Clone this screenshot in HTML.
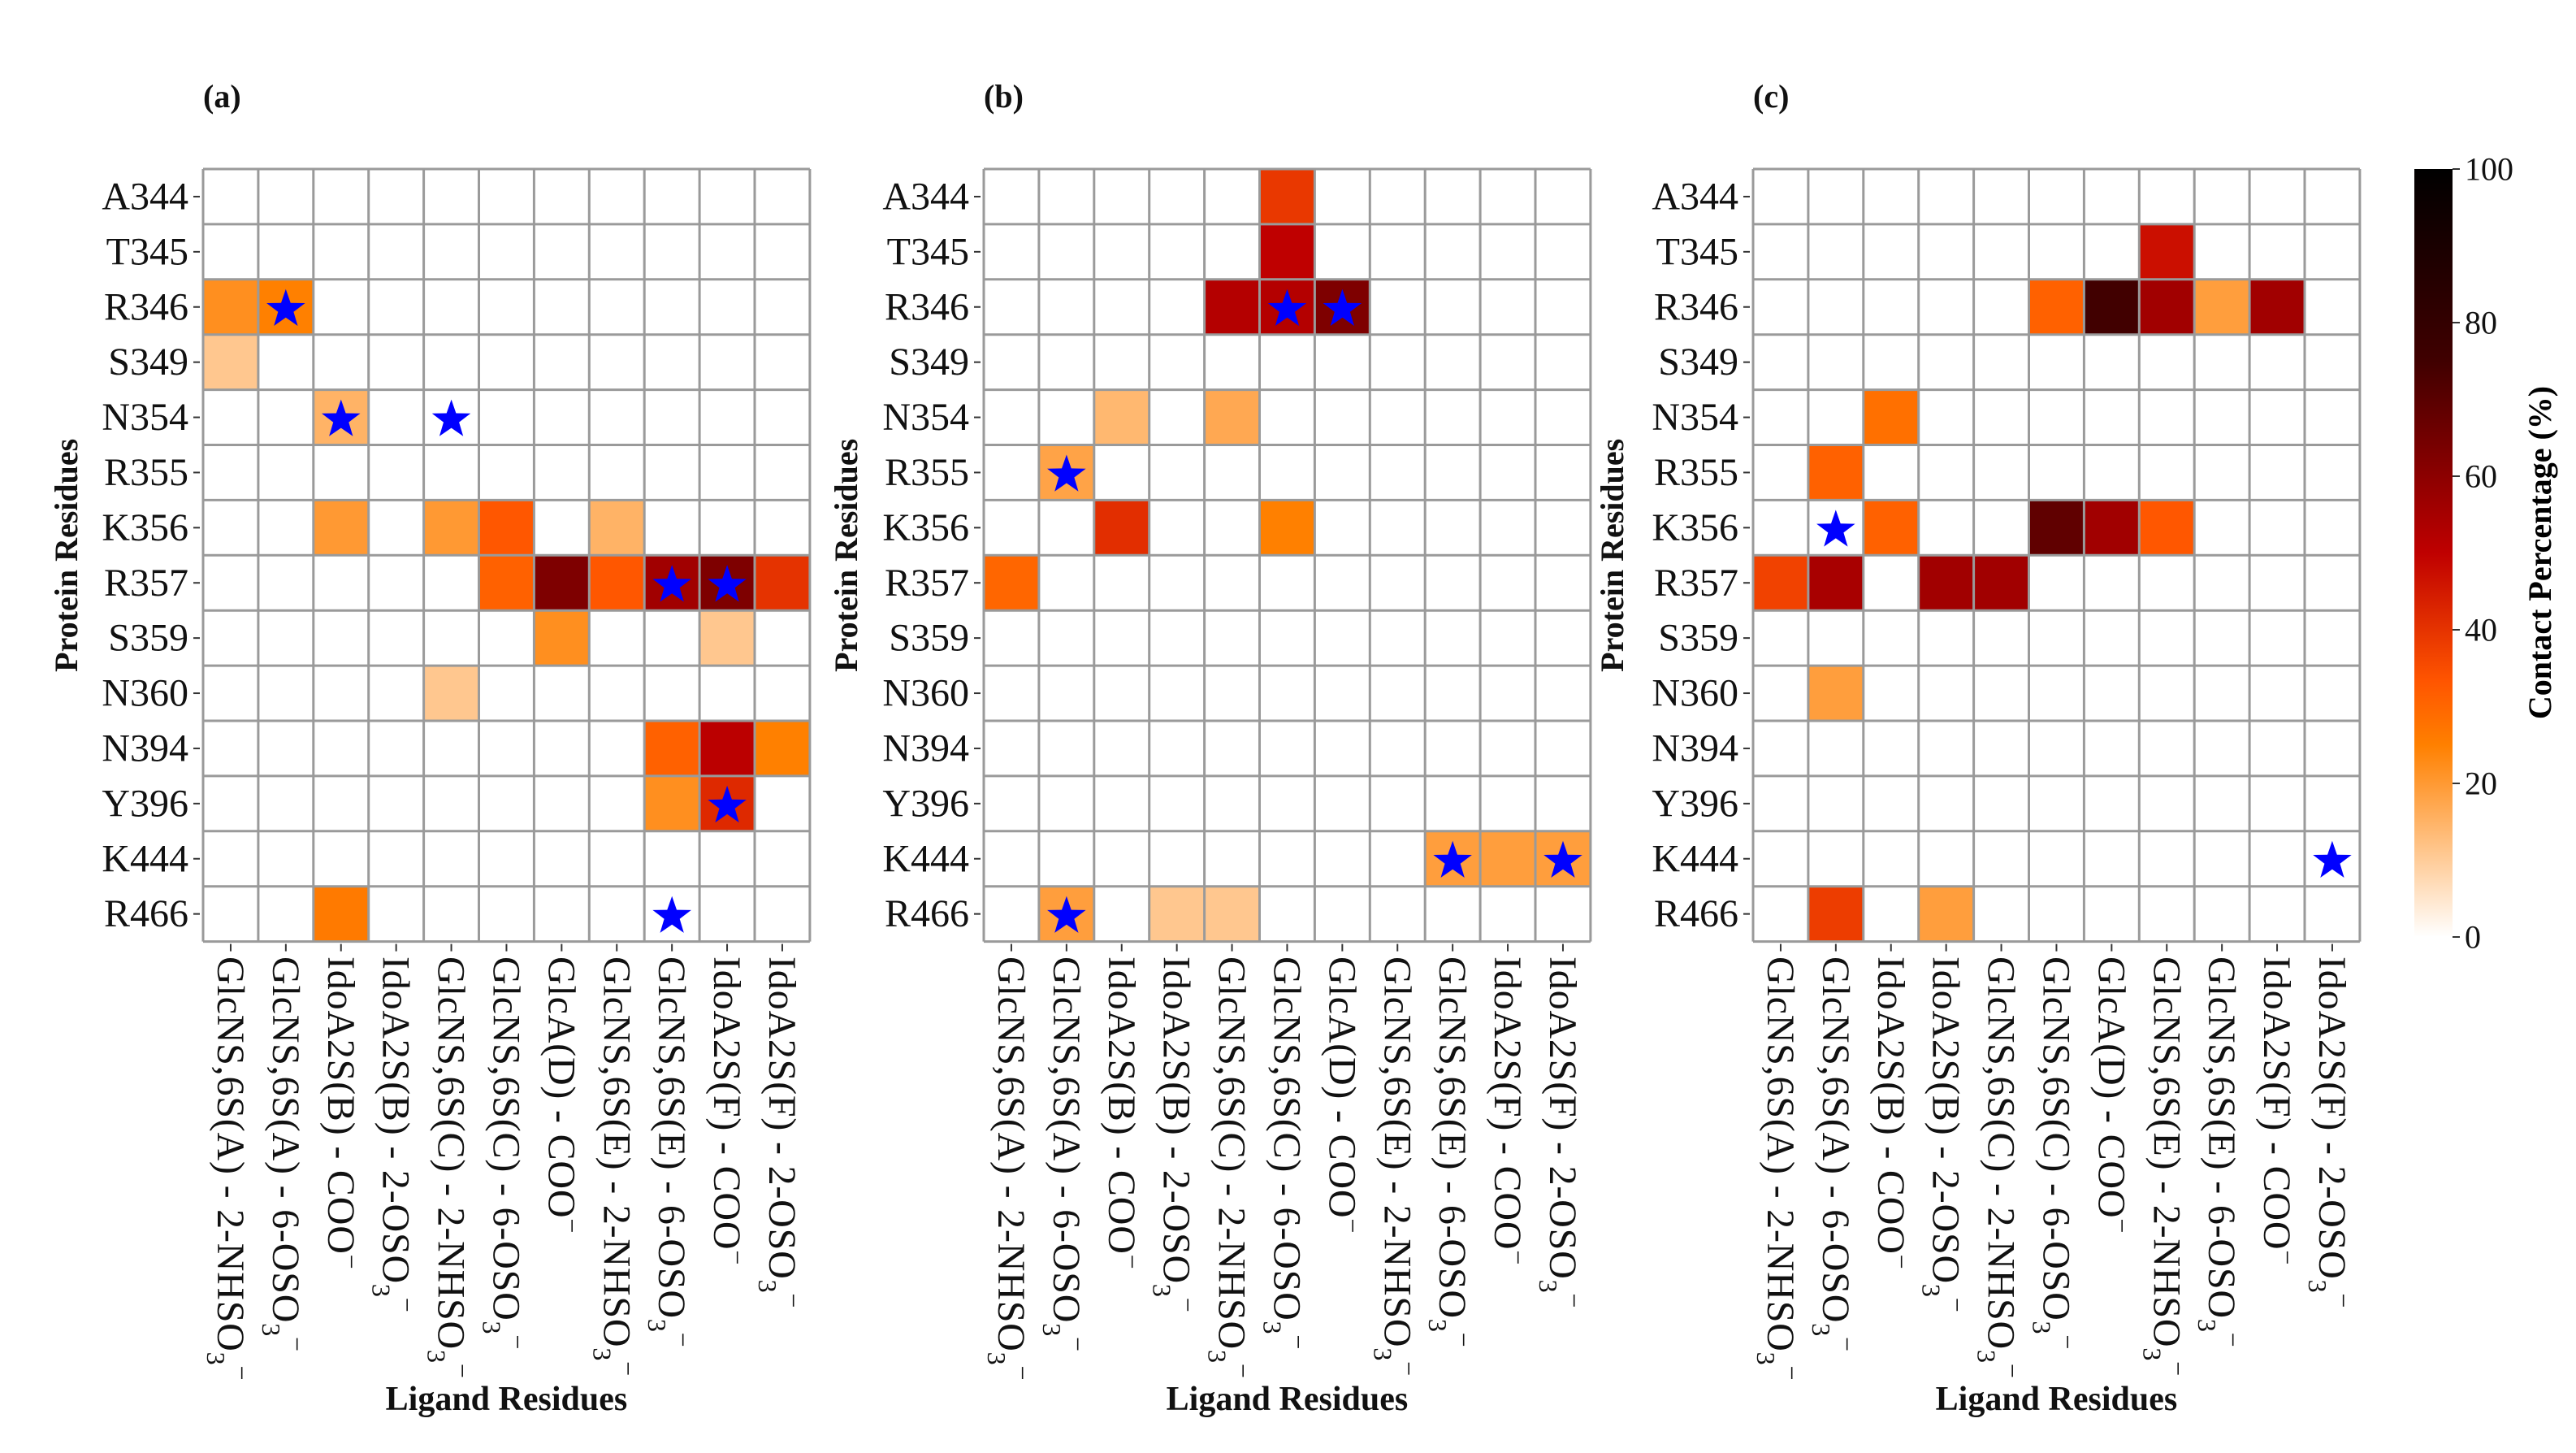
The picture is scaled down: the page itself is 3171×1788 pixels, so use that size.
<!DOCTYPE html>
<html><head><meta charset="utf-8"><style>
html,body{margin:0;padding:0;background:#fff;}
svg{display:block;font-family:"Liberation Serif",serif;}
</style></head><body>
<svg id="chart" width="3171" height="1788" viewBox="0 0 3171 1788" xmlns="http://www.w3.org/2000/svg">
<defs>
<linearGradient id="cbg" x1="0" y1="1" x2="0" y2="0">
<stop offset="0" stop-color="#ffffff"/><stop offset="0.25" stop-color="#ff8000"/><stop offset="0.333" stop-color="#ff5500"/><stop offset="0.5" stop-color="#bf0000"/><stop offset="0.75" stop-color="#400000"/><stop offset="1" stop-color="#000000"/>
</linearGradient>
</defs>
<g id="colorbar">
<rect x="2972" y="208" width="47" height="945" fill="url(#cbg)"/>
<text transform="translate(3140,680) rotate(-90)" text-anchor="middle" font-size="40" font-weight="bold">Contact Percentage (%)</text>
</g>
</svg>
<script>
const rowLabels = ["A344","T345","R346","S349","N354","R355","K356","R357","S359","N360","N394","Y396","K444","R466"];
const colMain = ["GlcNS,6S(A) - 2-NHSO","GlcNS,6S(A) - 6-OSO","IdoA2S(B) - COO","IdoA2S(B) - 2-OSO","GlcNS,6S(C) - 2-NHSO","GlcNS,6S(C) - 6-OSO","GlcA(D) - COO","GlcNS,6S(E) - 2-NHSO","GlcNS,6S(E) - 6-OSO","IdoA2S(F) - COO","IdoA2S(F) - 2-OSO"];
const colSub = [true,true,false,true,true,true,false,true,true,false,true];
const panelTitles = ["(a)","(b)","(c)"];
const cbTicks = [0,20,40,60,80,100];
// cells: [row, col, percent]
const cellsA = [[2,0,22],[2,1,25],[3,0,11],[4,2,15],[6,2,20],[6,4,20],[6,5,33],[6,7,15],[7,5,31],[7,6,67],[7,7,33],[7,8,58],[7,9,67],[7,10,40],[8,6,22],[8,9,11],[9,4,11],[10,8,31],[10,9,51],[10,10,25],[11,8,22],[11,9,42],[13,2,26]];
const cellsB = [[0,5,39],[1,5,50],[2,4,53],[2,5,53],[2,6,67],[4,2,14],[4,4,17],[5,1,18],[6,2,41],[6,5,25],[7,0,30],[12,8,19],[12,9,19],[12,10,19],[13,1,19],[13,3,11],[13,4,11]];
const cellsC = [[1,7,47],[2,5,31],[2,6,83],[2,7,58],[2,8,19],[2,9,58],[4,2,28],[5,1,31],[6,2,31],[6,5,75],[6,6,58],[6,7,33],[7,0,37],[7,1,56],[7,3,58],[7,4,58],[9,1,19],[13,1,38],[13,3,19]];
// stars: [row, col]
const starsA = [[2,1],[4,2],[4,4],[7,8],[7,9],[11,9],[13,8]];
const starsB = [[2,5],[2,6],[5,1],[12,8],[12,10],[13,1]];
const starsC = [[6,1],[12,10]];

const NS="http://www.w3.org/2000/svg";
const svg=document.getElementById('chart');
const CELL=67.9, TOP=208;
const lefts=[250,1211,2158];
const ytitleX=[81,1041,1984];
function el(t,a,p){const e=document.createElementNS(NS,t);for(const k in a)e.setAttribute(k,a[k]);(p||svg).appendChild(e);return e;}
function color(p){const x=p/100;const r=Math.min(1,1.5*(1-x)),g=Math.max(0,Math.min(1,1-2*x)),b=Math.max(0,Math.min(1,1-4*x));return `rgb(${Math.round(r*255)},${Math.round(g*255)},${Math.round(b*255)})`;}
function xPos(i,c){return lefts[i]+c*CELL;}
function yPos(r){return TOP+r*CELL;}
function starPath(cx,cy,R){const r=R*0.4;let d='';for(let k=0;k<10;k++){const a=-Math.PI/2+k*Math.PI/5;const rr=k%2?r:R;d+=(k?'L':'M')+(cx+rr*Math.cos(a)).toFixed(1)+','+(cy+rr*Math.sin(a)).toFixed(1);}return d+'Z';}
const cellSets=[cellsA,cellsB,cellsC], starSets=[starsA,starsB,starsC];
for(let i=0;i<3;i++){
  const g=el('g',{});
  
  
  cellSets[i].forEach(([r,c,v])=>{
    const rc=el('rect',{x:xPos(i,c),y:yPos(r),width:CELL,height:CELL,fill:color(v)},g);
    
    
  });
  const W=colMain.length*CELL,H=rowLabels.length*CELL;
  for(let c=0;c<=colMain.length;c++){const l=el('line',{x1:xPos(i,c),x2:xPos(i,c),y1:TOP,y2:TOP+H,stroke:'#9a9a9a','stroke-width':3},g);}
  for(let r=0;r<=rowLabels.length;r++){const l=el('line',{x1:lefts[i],x2:lefts[i]+W,y1:yPos(r),y2:yPos(r),stroke:'#9a9a9a','stroke-width':3},g);}
  starSets[i].forEach(([r,c])=>{
    const s=el('path',{d:starPath(xPos(i,c)+CELL/2,yPos(r)+CELL/2+3,25),fill:'#0000ff'},g);
    
    
  });
  rowLabels.forEach((lab,r)=>{
    const cy=yPos(r)+CELL/2;
    el('line',{x1:lefts[i]-12,x2:lefts[i]-4,y1:cy,y2:cy,stroke:'#333','stroke-width':2},g);
    const t=el('text',{x:lefts[i]-18,y:cy,'text-anchor':'end','dominant-baseline':'central','font-size':48,fill:'#111'},g);
    t.textContent=lab;
    
    
  });
  colMain.forEach((lab,c)=>{
    const cx=xPos(i,c)+CELL/2;
    el('line',{x1:cx,x2:cx,y1:TOP+H+3,y2:TOP+H+12,stroke:'#333','stroke-width':2},g);
    const t=el('text',{transform:`translate(${cx-16},1177) rotate(90)`,'font-size':48,'letter-spacing':0.8,fill:'#111'},g);
    
    
    const m=el('tspan',{},t);m.textContent=lab;
    if(colSub[c]){const s=el('tspan',{dy:13,'font-size':32},t);s.textContent='3';const sp=el('tspan',{dy:-32,'font-size':32},t);sp.textContent='−';}
    else{const sp=el('tspan',{dy:-18,'font-size':32},t);sp.textContent='−';}
  });
  const xt=el('text',{x:lefts[i]+W/2,y:1735,'text-anchor':'middle','font-size':42,'font-weight':'bold',fill:'#111'},g);
  xt.textContent='Ligand Residues';
  
  
  const yt=el('text',{transform:`translate(${ytitleX[i]+14},${TOP+H/2}) rotate(-90)`,'text-anchor':'middle','font-size':40,'font-weight':'bold',fill:'#111'},g);
  yt.textContent='Protein Residues';
  
  
  const pt=el('text',{x:lefts[i],y:132,'font-size':40,'font-weight':'bold',fill:'#111'},g);
  pt.textContent=panelTitles[i];
  
  
}
const cb=document.getElementById('colorbar');
cbTicks.forEach(v=>{
  const y=1153-v/100*945;
  el('line',{x1:3019,x2:3028,y1:y,y2:y,stroke:'#333','stroke-width':2},cb);
  const t=el('text',{x:3034,y:y,'dominant-baseline':'central','font-size':40,fill:'#111'},cb);
  t.textContent=v;
  
  
});
</script>
</body></html>
